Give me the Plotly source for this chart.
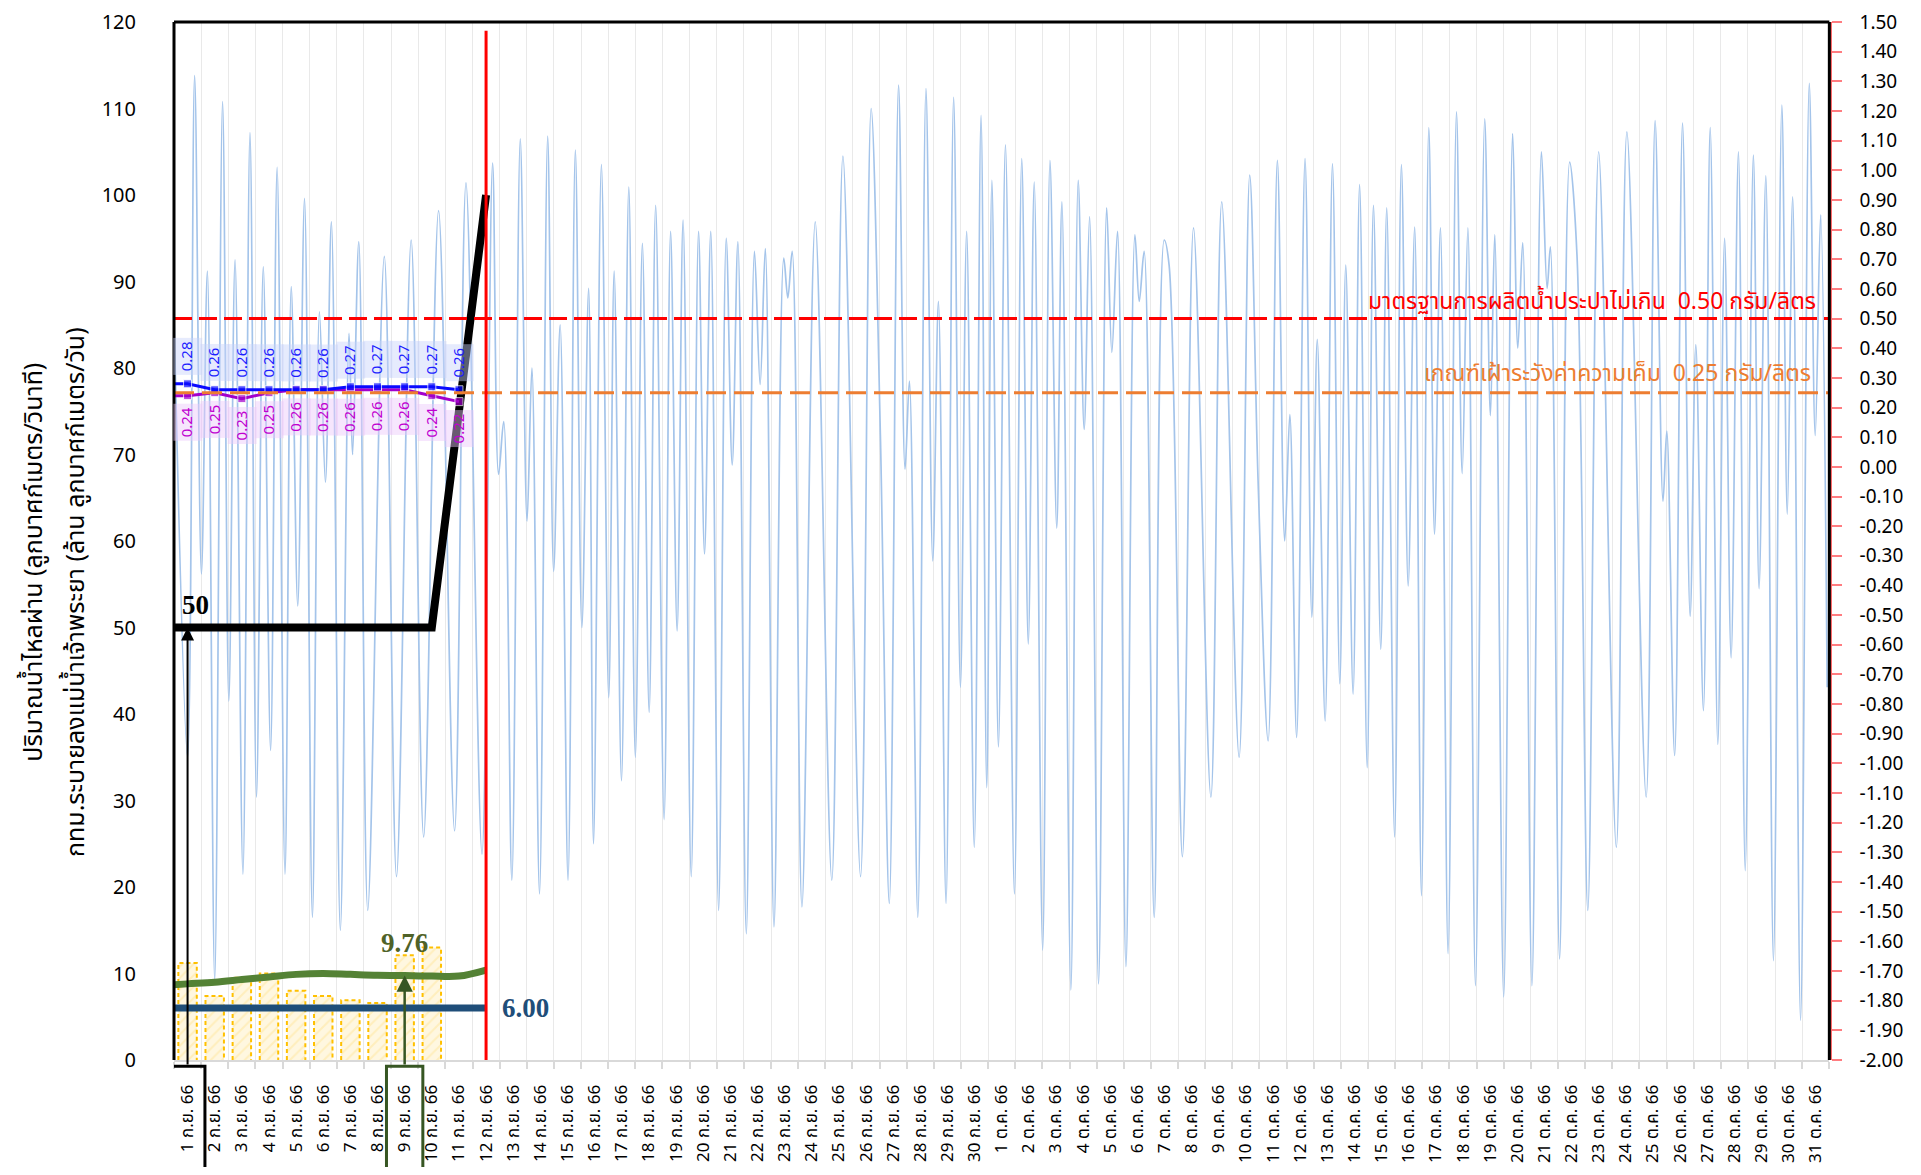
import plotly.graph_objects as go

# ---- etiquetas del eje X (1 ก.ย. 66 .. 31 ต.ค. 66) ----
sep_days = list(range(1, 31))
oct_days = list(range(1, 32))
date_labels = [f"{d} ก.ย. 66" for d in sep_days] + [f"{d} ต.ค. 66" for d in oct_days]
day_idx = list(range(len(date_labels)))

# ---- caudal (onda de marea), índice de día fraccional y valor m3/s ----
flow_t = [
    -0.5, 0.0, 0.26, 0.51, 0.73, 1.00, 1.29, 1.52, 1.75, 2.04, 2.30, 2.54, 2.79, 3.06,
    3.30, 3.59, 3.82, 4.06, 4.31, 4.60, 4.86, 5.08, 5.30, 5.63, 5.95, 6.08, 6.31, 6.64,
    7.25, 7.70, 8.24, 8.70, 9.25, 9.84, 10.26, 10.85, 11.24, 11.46, 11.65, 11.95, 12.26,
    12.51, 12.69, 12.97, 13.27, 13.49, 13.73, 14.02, 14.29, 14.53, 14.78, 14.96, 15.25,
    15.52, 15.72, 15.99, 16.26, 16.50, 16.76, 17.01, 17.25, 17.56, 17.80, 18.04, 18.26,
    18.56, 18.83, 19.05, 19.28, 19.57, 19.85, 20.07, 20.28, 20.59, 20.89, 21.10, 21.29,
    21.61, 21.97, 22.12, 22.28, 22.64, 23.13, 23.74, 24.15, 24.80, 25.19, 25.53, 25.86,
    26.20, 26.44, 26.60, 26.91, 27.21, 27.46, 27.67, 27.95, 28.23, 28.48, 28.71, 28.99,
    29.24, 29.45, 29.64, 29.88, 30.14, 30.47, 30.74, 30.98, 31.20, 31.51, 31.78, 32.03,
    32.22, 32.55, 32.82, 33.04, 33.24, 33.57, 33.87, 34.06, 34.27, 34.58, 34.91, 35.07,
    35.25, 35.62, 35.99, 36.17, 36.66, 37.07, 37.71, 38.11, 38.75, 39.14, 39.45, 39.82,
    40.16, 40.43, 40.62, 40.87, 41.18, 41.43, 41.63, 41.92, 42.19, 42.46, 42.68, 42.95,
    43.19, 43.47, 43.70, 43.97, 44.19, 44.48, 44.73, 44.98, 45.22, 45.47, 45.74, 45.95,
    46.17, 46.45, 46.76, 46.97, 47.18, 47.46, 47.80, 48.01, 48.17, 48.50, 48.83, 49.02,
    49.20, 49.54, 49.89, 50.10, 50.22, 50.56, 50.93, 51.20, 51.60, 52.00, 52.65, 53.04,
    53.75, 54.08, 54.37, 54.51, 54.80, 55.09, 55.37, 55.58, 55.86, 56.11, 56.39, 56.64,
    56.88, 57.15, 57.40, 57.70, 57.91, 58.16, 58.44, 58.75, 58.95, 59.15, 59.44, 59.76,
    59.98, 60.18, 60.42,
]
flow_q = [
    86, 35, 113.8, 56.2, 91.2, 9.2, 110.8, 41.5, 92.5, 21.5, 107.2, 30.4, 91.7, 35.8,
    103.2, 21.5, 89.4, 52.5, 99.6, 16.5, 86.5, 66.8, 96.9, 15.0, 84.0, 70.0, 94.6, 17.3,
    92.9, 21.2, 94.8, 25.8, 98.2, 26.5, 101.4, 23.8, 103.7, 67.7, 73.8, 20.8, 106.5,
    62.3, 80.0, 19.2, 106.8, 56.5, 85.0, 20.8, 105.2, 50.0, 89.2, 25.0, 103.5,
    41.9, 91.2, 32.3, 100.9, 35.0, 94.4, 40.2, 98.8, 27.8, 95.8, 49.6, 97.1,
    21.2, 95.8, 58.5, 95.8, 17.3, 95.0, 68.8, 94.6, 14.6, 93.5, 78.1, 93.8,
    15.4, 92.7, 88.1, 93.5, 17.7, 96.9, 20.8, 104.5, 21.2, 110.0, 72.3, 18.1,
    112.7, 68.3, 78.5, 16.5, 112.3, 57.7, 87.7, 18.1, 111.3, 43.1, 95.8, 24.6,
    109.2, 31.5, 101.7, 36.2, 105.8, 19.2, 104.2, 48.1, 101.5, 12.7, 104.0, 61.5,
    99.2, 8.1, 101.7, 72.9, 97.5, 8.8, 98.5, 81.8, 95.8, 10.8, 95.4, 87.7,
    93.5, 16.5, 94.8, 91.9, 23.5, 96.2, 30.4, 99.2, 35.0, 102.3, 66.9, 36.9,
    104.0, 60.0, 74.6, 37.3, 104.2, 51.2, 83.3, 39.2, 103.6, 43.5, 91.9, 42.3,
    101.2, 33.8, 98.8, 47.5, 98.5, 25.8, 103.5, 54.8, 96.3, 19.0, 107.8, 60.8,
    96.2, 12.3, 109.6, 67.8, 96.2, 8.6, 108.8, 74.5, 95.4, 7.3, 107.1, 82.3,
    94.5, 8.6, 105.0, 89.2, 94.0, 11.7, 103.8, 93.1, 17.3, 105.0, 24.6, 107.3,
    30.4, 108.6, 64.6, 72.7, 35.2, 108.3, 51.3, 82.7, 40.4, 107.8, 36.5, 95.0,
    46.5, 105.0, 21.9, 104.6, 54.5, 102.2, 11.5, 110.4, 63.1, 99.8, 4.6, 112.9,
    72.2, 97.7, 43.1,
]

# ---- series diarias (31 ส.ค. = -1 .. 12 ก.ย. = 11) ----
line_days = list(range(-1, 12))
release_plan = [50, 50, 50, 50, 50, 50, 50, 50, 50, 50, 50, 75, 100]
bkk_drain = [8.6, 8.8, 9.0, 9.3, 9.6, 9.9, 10.0, 9.9, 9.8, 9.76, 9.7, 9.7, 10.4]
bkk_min = [6.0] * 13

bar_days = list(range(0, 10))
bar_values = [11.2, 7.4, 9.5, 10.0, 8.0, 7.4, 6.9, 6.6, 12.1, 13.0]

# salinidad (g/l), eje derecho
sal_days = list(range(-1, 11))
sal_max = [0.28, 0.28, 0.26, 0.26, 0.26, 0.26, 0.26, 0.27, 0.27, 0.27, 0.27, 0.26]
sal_avg = [0.24, 0.24, 0.25, 0.23, 0.25, 0.26, 0.26, 0.26, 0.26, 0.26, 0.24, 0.22]

cutoff_day = 11
std_limit = 0.50
watch_limit = 0.25
right_ticks = [round(-2.0 + 0.1 * i, 2) for i in range(36)]

FONT = "Tahoma, 'Noto Sans Thai', 'Leelawadee UI', 'DejaVu Sans', sans-serif"
SERIF = "'Times New Roman', 'Liberation Serif', serif"

fig = go.Figure()

# onda de caudal
fig.add_trace(go.Scatter(
    x=flow_t, y=flow_q, mode="lines", line=dict(color="#A4C4EA", width=1.7, shape="spline"),
    hoverinfo="skip",
))

# barras amarillas (relleno rayado + contorno discontinuo)
fig.add_trace(go.Bar(
    x=bar_days, y=bar_values, width=0.68,
    marker=dict(color="rgba(255,242,204,0.6)", line=dict(width=0),
                pattern=dict(shape="/", fgcolor="#FFE699", size=8, solidity=0.25)),
))
ox, oy = [], []
for d, v in zip(bar_days, bar_values):
    ox += [d - 0.34, d - 0.34, d + 0.34, d + 0.34, None]
    oy += [0, v, v, 0, None]
fig.add_trace(go.Scatter(x=ox, y=oy, mode="lines",
                         line=dict(color="#FFC000", width=2, dash="4px,3px")))

fig.add_trace(go.Scatter(x=line_days, y=bkk_min, mode="lines",
                         line=dict(color="#1F4E79", width=7)))
fig.add_trace(go.Scatter(x=line_days, y=bkk_drain, mode="lines",
                         line=dict(color="#548235", width=7, shape="spline")))

# salinidad
fig.add_trace(go.Scatter(
    x=sal_days, y=sal_avg, yaxis="y2", mode="lines+markers",
    line=dict(color="#A300CC", width=3),
    marker=dict(symbol="square", size=[0] + [8] * (len(sal_days) - 1), color="#A300CC"),
))
fig.add_trace(go.Scatter(
    x=sal_days, y=sal_max, yaxis="y2", mode="lines+markers",
    line=dict(color="#0A0AFF", width=3),
    marker=dict(symbol="square", size=[0] + [8] * (len(sal_days) - 1), color="#0A0AFF"),
))

fig.add_trace(go.Scatter(x=line_days, y=release_plan, mode="lines",
                         line=dict(color="black", width=8)))

for d, v in zip(sal_days[1:], sal_max[1:]):
    fig.add_annotation(x=d, y=v, yref="y2", text=f"{v:.2f}", textangle=-90, showarrow=False,
                       yshift=27, width=34, height=26, bgcolor="rgba(200,210,250,0.45)",
                       font=dict(family=FONT, size=15, color="#1E1EFF"))
for d, v in zip(sal_days[1:], sal_avg[1:]):
    fig.add_annotation(x=d, y=v, yref="y2", text=f"{v:.2f}", textangle=-90, showarrow=False,
                       yshift=-27, width=34, height=26, bgcolor="rgba(235,200,250,0.45)",
                       font=dict(family=FONT, size=15, color="#C000D0"))

# líneas de referencia
fig.add_shape(type="line", xref="paper", x0=0, x1=0.999, yref="y2", y0=std_limit, y1=std_limit,
              line=dict(color="#FF0000", width=3, dash="18px,7px"))
fig.add_shape(type="line", xref="paper", x0=0, x1=0.999, yref="y2", y0=watch_limit, y1=watch_limit,
              line=dict(color="#ED7D31", width=3, dash="20px,8px"))
fig.add_shape(type="line", x0=cutoff_day, x1=cutoff_day, y0=0, y1=119,
              line=dict(color="#FF0000", width=3))

fig.add_annotation(xref="paper", x=0.992, xanchor="right", yref="y2", y=std_limit, yanchor="bottom",
                   yshift=-2, showarrow=False, text="มาตรฐานการผลิตน้ำประปาไม่เกิน  0.50 กรัม/ลิตร",
                   font=dict(family=FONT, size=23, color="#FF0000"))
fig.add_annotation(xref="paper", x=0.989, xanchor="right", yref="y2", y=watch_limit, yanchor="bottom",
                   yshift=0, showarrow=False, text="เกณฑ์เฝ้าระวังค่าความเค็ม  0.25 กรัม/ลิตร",
                   font=dict(family=FONT, size=23, color="#ED7D31"))

# marco negro (izquierda, arriba, derecha)
for x0, y0, x1, y1 in [(0, 0, 0, 1), (0, 1, 0.999, 1), (0.999, 0, 0.999, 1)]:
    fig.add_shape(type="line", xref="paper", yref="paper", x0=x0, y0=y0, x1=x1, y1=y1,
                  line=dict(color="black", width=3))

# recuadros de fechas y flechas
fig.add_shape(type="rect", x0=-0.65, x1=0.64, yref="paper", y0=-0.006, y1=-0.2,
              line=dict(color="black", width=3))
fig.add_shape(type="rect", x0=7.33, x1=8.67, yref="paper", y0=-0.006, y1=-0.2,
              line=dict(color="#375623", width=3))
fig.add_annotation(x=0, y=release_plan[1], ax=0, ay=-0.7, axref="x", ayref="y", text="",
                   showarrow=True, arrowhead=2, arrowsize=1.3, arrowwidth=2, arrowcolor="black")
fig.add_annotation(x=8, y=bkk_drain[9], ax=8, ay=-0.7, axref="x", ayref="y", text="",
                   showarrow=True, arrowhead=2, arrowsize=1.3, arrowwidth=2.5, arrowcolor="#375623")

fig.add_annotation(x=0.3, y=release_plan[1], yanchor="bottom", yshift=6, showarrow=False,
                   text="<b>50</b>", font=dict(family=SERIF, size=27, color="black"))
fig.add_annotation(x=8, y=bkk_drain[9], yanchor="bottom", yshift=16, showarrow=False,
                   text="<b>9.76</b>", font=dict(family=SERIF, size=27, color="#4F6228"))
fig.add_annotation(x=12.45, y=bkk_min[0], showarrow=False,
                   text="<b>6.00</b>", font=dict(family=SERIF, size=27, color="#1F4E79"))

# título del eje izquierdo (dos líneas)
fig.add_annotation(xref="paper", yref="paper", x=-0.0845, y=0.48, xanchor="center", yanchor="middle",
                   textangle=-90, showarrow=False, text="ปริมาณน้ำไหลผ่าน (ลูกบาศก์เมตร/วินาที)",
                   font=dict(family=FONT, size=25, color="black"))
fig.add_annotation(xref="paper", yref="paper", x=-0.0591, y=0.451, xanchor="center", yanchor="middle",
                   textangle=-90, showarrow=False, text="กทม.ระบายลงแม่น้ำเจ้าพระยา (ล้าน ลูกบาศก์เมตร/วัน)",
                   font=dict(family=FONT, size=25, color="black"))

# la página tiene 8px de margen: figura de 1905x1159 para llenar 1921x1175
fig.update_layout(
    width=1905, height=1159,
    margin=dict(l=166, r=82, t=14, b=107, autoexpand=False),
    paper_bgcolor="white", plot_bgcolor="white",
    showlegend=False,
    font=dict(family=FONT, color="black"),
    xaxis=dict(
        domain=[0, 0.999], range=[-0.5, 60.5], automargin=False,
        tickmode="array", tickvals=day_idx, ticktext=date_labels, tickangle=-90,
        tickfont=dict(size=17, color="black"), ticks="", ticklabelstandoff=16,
        ticklabeloverflow="allow",
        showgrid=False, zeroline=False,
        showline=True, linecolor="#D9D9D9", linewidth=2,
        minor=dict(tickmode="linear", tick0=-0.5, dtick=1, ticks="outside", ticklen=7,
                   tickcolor="#D9D9D9", tickwidth=2, showgrid=True, gridcolor="#E9E9E9", gridwidth=1),
    ),
    yaxis=dict(
        range=[0, 120], dtick=10, showgrid=False, zeroline=False, showline=False,
        automargin=False, ticklabeloverflow="allow",
        ticks="", ticklabelstandoff=37, tickfont=dict(size=20, color="black"),
    ),
    yaxis2=dict(
        overlaying="y", side="right", anchor="free", position=1.0,
        automargin=False, ticklabeloverflow="allow",
        range=[-2.0, 1.5], tickmode="array", tickvals=right_ticks,
        ticktext=[f"{v:.2f}" for v in right_ticks],
        showgrid=False, zeroline=False,
        showline=True, linecolor="#FF6B6B", linewidth=1.5,
        ticks="outside", ticklen=10, tickcolor="#FF7C80", tickwidth=1.5,
        ticklabelstandoff=14, tickfont=dict(size=19, color="black"),
    ),
)

fig.write_html("out.html")
